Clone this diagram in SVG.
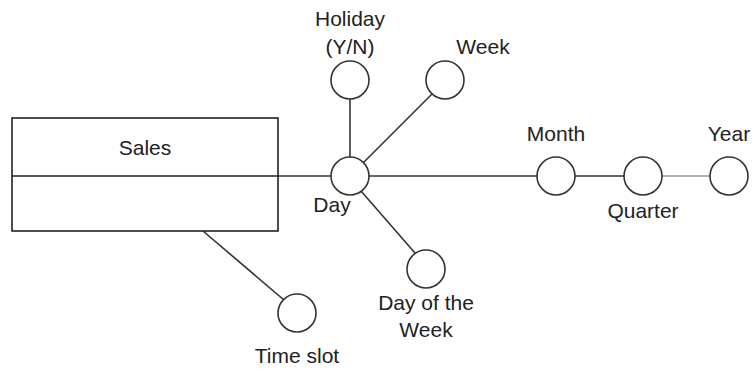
<svg xmlns="http://www.w3.org/2000/svg" width="755" height="376" viewBox="0 0 755 376">
<style>
text{font-family:"Liberation Sans",Arial,sans-serif;font-size:21px;fill:#222;text-anchor:middle}
.n circle{fill:#fff;stroke:#333;stroke-width:1.6}
.c line{stroke:#333;stroke-width:1.6}
.box{fill:#fff;stroke:#222;stroke-width:1.6}
</style>
<rect width="755" height="376" fill="#fff"/>
<g class="c" id="connectors">
<line x1="278" y1="176" x2="331" y2="176"/>
<line x1="350" y1="99" x2="350" y2="157"/>
<line x1="363" y1="163" x2="432" y2="94"/>
<line x1="369" y1="176" x2="537" y2="176"/>
<line x1="575" y1="176" x2="624" y2="176"/>
<line x1="662" y1="176" x2="710" y2="176" style="stroke:#999"/>
<line x1="361" y1="191" x2="415" y2="253"/>
<line x1="203" y1="231" x2="284" y2="300"/>
</g>
<g id="sales">
<rect class="box" x="12" y="118" width="266" height="113"/>
<line x1="12" y1="176" x2="278" y2="176" stroke="#222" stroke-width="1.6"/>
<text x="145" y="155">Sales</text>
</g>
<g class="n" id="day"><circle cx="350" cy="176" r="19"/><text x="332" y="212">Day</text></g>
<g class="n" id="holiday"><circle cx="350" cy="80" r="19"/><text x="350" y="26">Holiday</text><text x="350" y="54">(Y/N)</text></g>
<g class="n" id="week"><circle cx="445" cy="80" r="19"/><text x="483" y="54">Week</text></g>
<g class="n" id="month"><circle cx="556" cy="176" r="19"/><text x="556" y="141">Month</text></g>
<g class="n" id="quarter"><circle cx="643" cy="176" r="19"/><text x="643" y="218">Quarter</text></g>
<g class="n" id="year"><circle cx="729" cy="176" r="19"/><text x="729" y="141">Year</text></g>
<g class="n" id="dayofweek"><circle cx="426" cy="269" r="19"/><text x="426" y="310">Day of the</text><text x="426" y="337">Week</text></g>
<g class="n" id="timeslot"><circle cx="297" cy="313" r="19"/><text x="297" y="363">Time slot</text></g>
</svg>
